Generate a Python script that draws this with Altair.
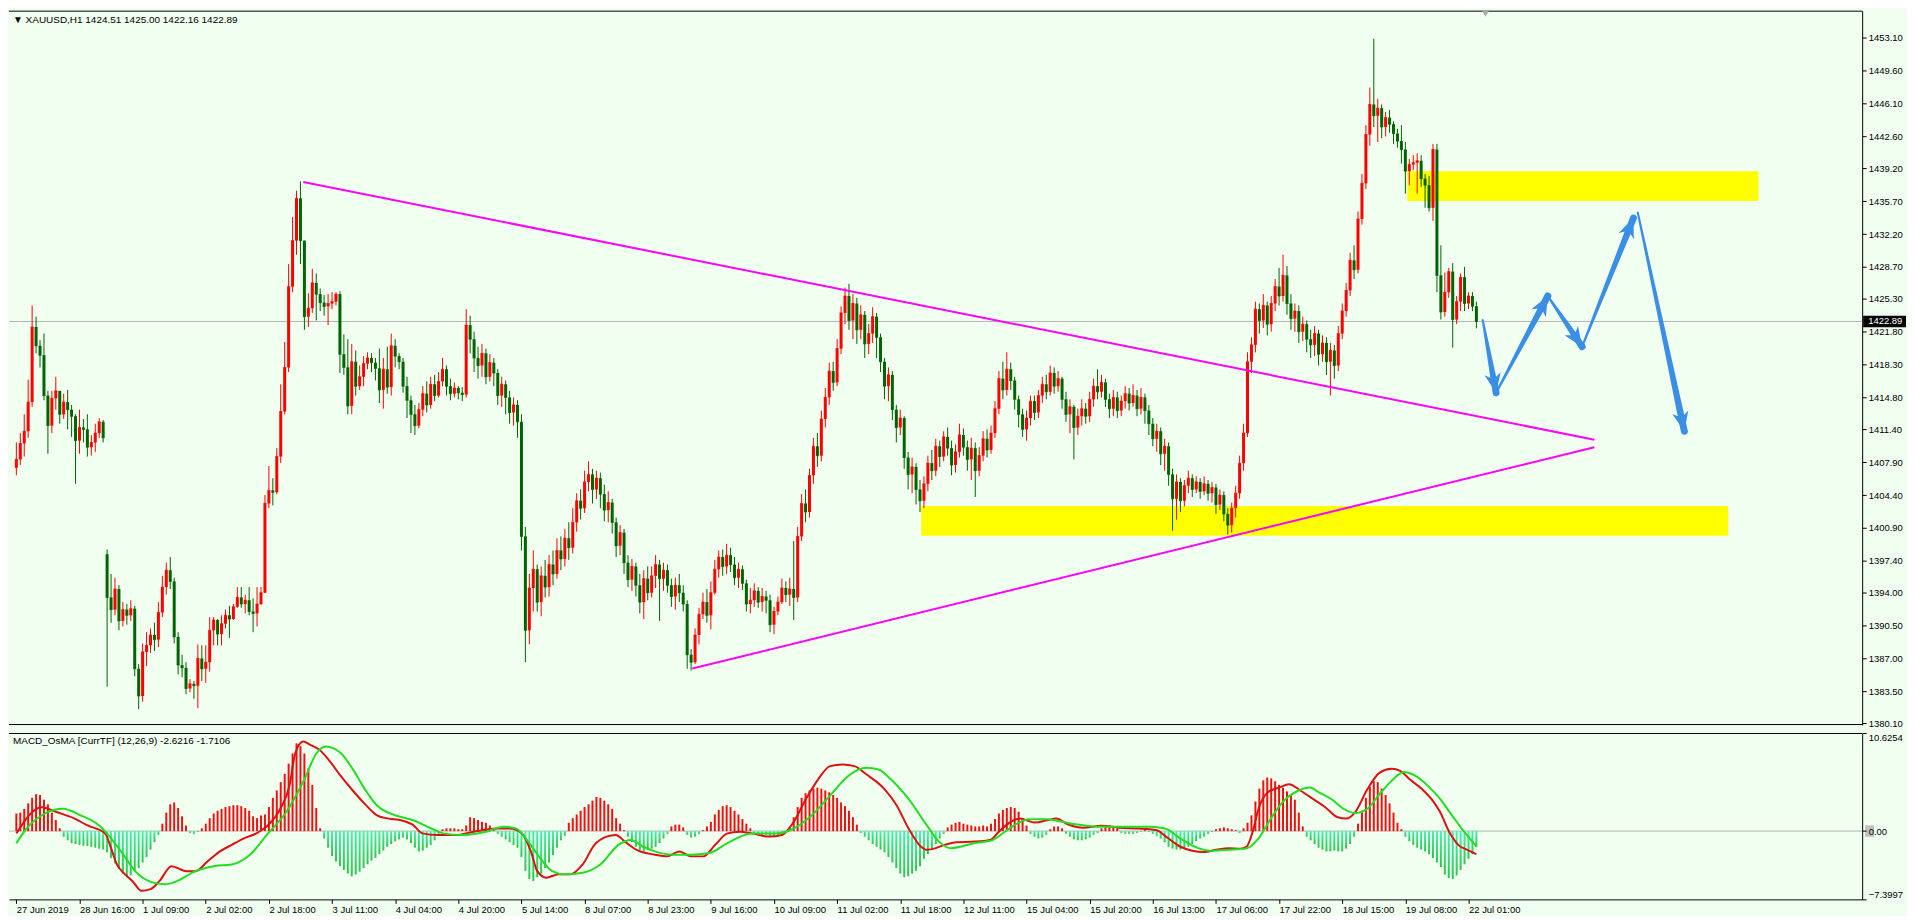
import math
import pandas as pd
import altair as alt

# ---------------- data ----------------
close = [
    1408.2, 1409.9, 1411.2, 1414.3, 1422.3, 1420.3, 1419.3, 1415.0, 1411.8, 1414.7, 1415.5, 1413.0, 1414.3, 1413.5, 1412.8, 1410.2, 1411.6, 1411.4, 1409.5, 1410.0, 1411.0, 1412.2, 1410.5,
    1393.5, 1392.2, 1394.4, 1391.0, 1392.2, 1391.6, 1392.3, 1385.9, 1383.0, 1387.7, 1388.4, 1389.5, 1389.0, 1391.9, 1394.6, 1396.4, 1395.2, 1389.3, 1386.3, 1386.0, 1383.8, 1384.3, 1384.1, 1387.0, 1385.9, 1386.6, 1390.0, 1391.1, 1389.6, 1390.7, 1391.6, 1391.2, 1392.5, 1393.5, 1392.8, 1393.2, 1392.0, 1391.8, 1392.8, 1394.0,
    1403.5, 1404.9, 1404.7, 1408.5, 1413.3, 1418.0, 1426.6, 1431.5, 1436.0, 1431.5, 1423.4, 1424.3, 1427.0, 1425.8, 1424.9, 1424.5, 1424.8, 1425.0, 1425.8, 1419.4, 1418.0, 1413.9, 1418.6, 1416.0, 1417.0, 1418.4, 1419.0, 1418.5, 1417.9, 1415.6, 1417.8, 1415.9, 1420.3, 1419.2, 1418.6, 1416.0, 1414.5,
    1413.0, 1411.8, 1413.5, 1415.2, 1414.0, 1416.2, 1415.0, 1416.5, 1417.8, 1416.0, 1415.2, 1415.8, 1415.3, 1415.1, 1422.5, 1421.0, 1419.0, 1418.2, 1419.5, 1417.0, 1418.5, 1417.4, 1415.0, 1416.2, 1414.8, 1413.2, 1414.0, 1412.2,
    1400.0, 1390.0, 1394.5, 1396.5, 1393.0, 1395.8, 1394.6, 1397.0, 1396.0, 1398.5, 1397.6, 1399.8, 1398.8, 1401.5, 1403.8, 1403.0, 1405.8, 1406.6, 1405.0, 1406.2, 1404.5, 1402.8, 1403.6, 1401.5, 1399.0, 1400.4, 1397.2, 1395.4, 1396.8, 1394.8,
    1393.0, 1395.5, 1394.0, 1395.8, 1397.0, 1395.5, 1396.4, 1394.8, 1393.6, 1394.8, 1394.0, 1392.8, 1387.4, 1386.6, 1389.5, 1391.7, 1393.0, 1391.6, 1394.0, 1396.5, 1397.8, 1396.8, 1398.0, 1397.0, 1395.6, 1396.5, 1395.0, 1392.8, 1393.2, 1394.2, 1393.0, 1393.6, 1393.2, 1390.6, 1392.0, 1393.0, 1394.5, 1393.8, 1394.4, 1393.5,
    1400.0, 1403.5, 1402.6, 1406.5, 1409.6, 1408.6, 1412.5, 1414.8, 1417.6, 1416.4, 1420.0, 1423.8, 1425.6, 1423.0, 1424.8, 1422.0, 1423.6, 1420.5, 1421.6, 1423.4, 1421.2, 1418.6, 1416.0, 1417.2, 1413.5, 1411.6, 1412.6, 1408.4, 1406.6, 1407.4, 1405.0, 1403.8, 1405.6,
    1407.8, 1407.0, 1409.6, 1408.5, 1410.6, 1409.4, 1407.6, 1409.0, 1410.8, 1409.5, 1408.2, 1409.4, 1407.0, 1408.6, 1410.4, 1409.2, 1411.0, 1413.6, 1416.8, 1415.6, 1417.8, 1416.6, 1414.6, 1413.0, 1411.4, 1412.6, 1414.4, 1413.2, 1415.0, 1416.2, 1415.4,
    1417.4, 1416.0, 1416.8, 1414.6, 1413.0, 1413.8, 1411.6, 1412.8, 1413.6, 1412.8, 1414.6, 1416.0, 1415.4, 1416.4, 1414.6, 1413.6, 1414.8, 1413.4, 1414.4, 1415.2, 1414.2, 1415.0, 1413.6, 1414.8, 1413.4, 1412.0,
    1410.4, 1411.2, 1408.8, 1409.6, 1406.6, 1404.0, 1405.8, 1403.8, 1405.4, 1406.2, 1405.0, 1405.8, 1404.8, 1405.6, 1404.6, 1405.2, 1403.4, 1404.4, 1402.4, 1401.2, 1403.0,
    1404.6, 1407.8, 1411.0, 1418.6, 1420.4, 1424.2, 1423.0, 1424.6, 1422.6, 1424.8, 1426.6, 1425.6, 1427.8, 1424.8, 1423.2, 1424.0, 1421.8, 1422.6, 1421.0, 1420.4, 1421.6, 1419.4, 1420.6, 1418.6, 1419.8, 1418.2, 1421.6,
    1424.0, 1426.2, 1429.4, 1428.4, 1433.8, 1437.6, 1442.8, 1446.0, 1444.8, 1445.6, 1443.6, 1444.6, 1443.9, 1442.9, 1442.1, 1441.2, 1438.9,
    1439.6, 1439.8, 1440.0, 1438.1, 1437.4, 1435.0, 1441.2, 1427.8, 1423.9, 1426.0, 1428.2, 1423.1, 1425.0, 1427.6, 1424.8, 1425.6, 1424.51, 1422.89,
]
high = [
    1410.0, 1411.0, 1413.0, 1416.7, 1424.6, 1423.4, 1420.9, 1421.6, 1415.5, 1415.5, 1417.0, 1415.5, 1415.2, 1415.6, 1414.0, 1413.0, 1413.5, 1412.5, 1413.0, 1410.8, 1412.0, 1412.6, 1412.4,
    1398.6, 1396.0, 1395.6, 1394.8, 1393.0, 1392.8, 1393.2, 1392.6, 1386.4, 1388.6, 1389.8, 1390.2, 1390.8, 1393.0, 1395.8, 1397.2, 1397.8, 1395.6, 1389.8, 1387.4, 1386.6, 1384.8, 1384.6, 1388.5, 1388.4, 1388.4, 1391.4, 1391.4, 1391.2, 1391.6, 1392.2, 1392.6, 1392.8, 1394.6, 1394.6, 1393.8, 1394.6, 1393.4, 1394.6, 1394.6,
    1404.4, 1407.5, 1406.2, 1409.4, 1416.2, 1420.7, 1429.0, 1434.0, 1436.8, 1437.8, 1429.0, 1425.9, 1428.5, 1428.0, 1426.4, 1425.7, 1425.8, 1426.0, 1426.0, 1426.1, 1421.5, 1421.0, 1420.5, 1419.8, 1418.2, 1419.2, 1419.6, 1419.5, 1419.0, 1420.0, 1419.0, 1420.2, 1421.6, 1421.0, 1419.5, 1419.0, 1417.0,
    1415.0, 1414.0, 1414.2, 1416.0, 1416.5, 1417.0, 1417.2, 1417.5, 1419.0, 1418.2, 1416.8, 1416.4, 1416.0, 1415.9, 1424.2, 1423.5, 1421.8, 1420.2, 1420.5, 1420.0, 1419.4, 1419.0, 1417.8, 1417.0, 1416.6, 1415.5, 1414.8, 1414.5,
    1413.0, 1401.0, 1396.0, 1398.5, 1397.0, 1396.8, 1397.5, 1398.0, 1398.5, 1399.8, 1400.0, 1400.8, 1401.5, 1403.0, 1404.6, 1405.0, 1407.0, 1408.0, 1407.2, 1407.0, 1406.8, 1405.5, 1404.8, 1404.0, 1402.0, 1401.2, 1400.8, 1398.0, 1397.6, 1397.2,
    1396.0, 1396.4, 1396.8, 1396.8, 1398.0, 1397.5, 1397.2, 1397.0, 1395.5, 1395.6, 1396.0, 1394.8, 1393.2, 1388.0, 1390.2, 1392.4, 1394.0, 1394.4, 1395.2, 1397.5, 1398.5, 1398.6, 1399.2, 1398.8, 1397.8, 1397.2, 1396.9, 1395.4, 1394.5, 1395.0, 1394.6, 1394.5, 1394.2, 1393.8, 1392.5, 1393.6, 1395.5, 1395.2, 1395.6, 1399.5,
    1401.0, 1404.5, 1405.0, 1407.2, 1410.5, 1411.0, 1413.4, 1415.8, 1418.5, 1418.6, 1421.0, 1424.5, 1426.5, 1426.9, 1425.8, 1425.4, 1424.6, 1424.0, 1422.6, 1424.4, 1423.8, 1421.6, 1419.0, 1418.0, 1417.6, 1414.0, 1413.5, 1412.8, 1409.0, 1408.4, 1407.8, 1406.0, 1406.4,
    1408.6, 1409.2, 1410.4, 1410.2, 1411.2, 1411.6, 1410.2, 1409.8, 1412.0, 1411.5, 1410.2, 1410.5, 1410.0, 1409.5, 1411.2, 1411.4, 1411.8, 1414.4, 1417.6, 1418.6, 1419.6, 1418.5, 1417.0, 1415.0, 1413.6, 1413.4, 1415.0, 1415.0, 1415.6, 1417.0, 1417.2,
    1418.2, 1418.0, 1417.6, 1417.0, 1415.4, 1414.6, 1414.0, 1413.6, 1414.6, 1414.2, 1415.4, 1416.8, 1417.8, 1417.2, 1416.8, 1415.2, 1415.6, 1415.4, 1415.0, 1416.0, 1415.8, 1416.2, 1415.6, 1415.8, 1415.2, 1414.0,
    1412.6, 1412.0, 1411.6, 1410.4, 1410.0, 1407.2, 1406.6, 1406.2, 1406.0, 1407.0, 1406.6, 1406.4, 1406.2, 1406.4, 1406.0, 1405.8, 1405.6, 1405.0, 1404.8, 1403.0, 1403.6,
    1405.4, 1408.6, 1412.0, 1419.6, 1421.2, 1425.0, 1424.8, 1425.8, 1425.0, 1425.6, 1427.4, 1428.6, 1430.0, 1428.8, 1425.8, 1424.8, 1424.6, 1423.4, 1423.0, 1422.0, 1422.4, 1422.0, 1421.4, 1421.2, 1420.6, 1420.4, 1422.4,
    1424.8, 1427.0, 1430.2, 1431.0, 1434.6, 1438.6, 1443.8, 1447.8, 1453.0, 1446.6, 1446.0, 1445.2, 1445.4, 1444.2, 1443.4, 1443.8, 1442.0,
    1440.2, 1440.6, 1440.8, 1440.6, 1438.6, 1438.4, 1441.8, 1441.8, 1431.0, 1428.1, 1428.6, 1429.1, 1425.6, 1428.0, 1428.7, 1426.0, 1426.0, 1425.00,
]
low = [
    1406.5, 1407.6, 1408.5, 1410.5, 1413.8, 1419.5, 1418.0, 1414.5, 1408.8, 1411.0, 1413.5, 1412.0, 1412.5, 1411.4, 1410.6, 1405.6, 1408.8, 1410.0, 1408.5, 1408.6, 1409.0, 1410.5, 1410.0,
    1384.0, 1390.8, 1391.6, 1390.0, 1390.4, 1390.6, 1391.0, 1385.1, 1381.6, 1382.4, 1386.2, 1387.6, 1387.8, 1388.2, 1391.4, 1393.8, 1394.4, 1388.6, 1385.3, 1385.0, 1383.2, 1383.4, 1382.7, 1381.7, 1384.6, 1384.4, 1385.6, 1388.4, 1388.4, 1388.4, 1390.2, 1389.2, 1391.1, 1392.4, 1392.4, 1391.8, 1391.6, 1389.8, 1390.4, 1392.7,
    1394.0, 1403.0, 1403.3, 1404.5, 1407.8, 1413.0, 1417.5, 1426.0, 1430.0, 1429.0, 1422.0, 1422.3, 1423.8, 1423.0, 1424.0, 1423.5, 1422.5, 1424.2, 1424.6, 1417.4, 1417.2, 1413.0, 1413.0, 1415.0, 1415.6, 1416.0, 1417.8, 1417.5, 1416.6, 1414.2, 1413.6, 1415.2, 1415.0, 1418.0, 1417.8, 1415.3, 1412.6,
    1411.0, 1410.8, 1411.5, 1412.8, 1413.2, 1413.6, 1414.4, 1414.8, 1416.0, 1415.0, 1414.5, 1414.8, 1414.6, 1414.4, 1414.8, 1419.5, 1417.5, 1416.8, 1417.0, 1416.2, 1416.5, 1416.0, 1414.0, 1413.8, 1413.0, 1412.0, 1411.8, 1410.5,
    1398.5, 1386.6, 1388.5, 1392.0, 1392.0, 1391.5, 1393.5, 1393.6, 1394.8, 1395.5, 1396.4, 1396.8, 1397.5, 1398.2, 1400.5, 1401.8, 1402.5, 1404.8, 1403.5, 1404.0, 1403.0, 1401.6, 1401.5, 1400.3, 1397.8, 1398.0, 1396.0, 1394.6, 1394.2, 1393.6,
    1391.8, 1391.2, 1393.2, 1393.5, 1394.5, 1391.0, 1394.2, 1394.0, 1392.5, 1392.2, 1393.0, 1392.0, 1385.9, 1385.7, 1386.4, 1388.5, 1391.2, 1390.8, 1390.1, 1393.8, 1395.6, 1395.8, 1396.0, 1396.2, 1394.8, 1394.5, 1394.3, 1392.0, 1391.8, 1392.5, 1392.4, 1392.0, 1391.8, 1389.8, 1389.6, 1391.6, 1392.8, 1393.0, 1392.6, 1391.1,
    1393.0, 1399.5, 1401.5, 1402.0, 1405.6, 1407.4, 1408.0, 1411.6, 1414.0, 1415.5, 1416.0, 1419.4, 1422.6, 1422.0, 1421.0, 1420.5, 1421.0, 1419.0, 1419.4, 1420.6, 1419.0, 1417.5, 1414.6, 1414.4, 1412.4, 1410.0, 1410.8, 1407.2, 1405.0, 1404.6, 1403.4, 1402.6, 1403.0,
    1404.8, 1406.0, 1406.4, 1407.4, 1408.0, 1408.6, 1406.5, 1406.8, 1408.4, 1408.6, 1407.0, 1406.0, 1404.2, 1406.4, 1408.0, 1408.4, 1408.8, 1410.5, 1413.0, 1414.6, 1415.0, 1415.6, 1413.5, 1411.6, 1410.6, 1410.2, 1411.8, 1412.4, 1412.6, 1414.2, 1414.6,
    1415.0, 1415.2, 1415.4, 1413.6, 1412.2, 1411.0, 1408.2, 1410.8, 1411.8, 1412.0, 1412.2, 1413.8, 1414.6, 1414.8, 1413.8, 1412.6, 1412.8, 1412.6, 1412.8, 1413.6, 1413.4, 1413.8, 1412.8, 1413.0, 1412.0, 1410.8,
    1409.6, 1409.0, 1407.6, 1407.0, 1405.4, 1400.6, 1401.8, 1402.6, 1403.2, 1404.6, 1404.2, 1404.6, 1404.0, 1404.4, 1403.8, 1403.6, 1402.4, 1402.8, 1401.6, 1400.2, 1400.4,
    1402.0, 1404.0, 1407.0, 1410.6, 1417.4, 1419.6, 1421.6, 1422.2, 1421.4, 1421.8, 1424.0, 1424.6, 1425.0, 1423.6, 1422.0, 1421.8, 1420.6, 1420.8, 1419.6, 1419.0, 1419.2, 1418.2, 1418.6, 1417.2, 1415.0, 1416.8, 1417.6,
    1421.0, 1423.4, 1425.6, 1427.4, 1428.0, 1433.2, 1437.0, 1441.6, 1443.6, 1442.0, 1442.4, 1442.6, 1443.0, 1441.8, 1441.4, 1439.7, 1436.5,
    1437.4, 1439.0, 1436.5, 1437.2, 1435.0, 1434.6, 1433.6, 1426.0, 1423.1, 1423.4, 1425.4, 1420.1, 1422.6, 1424.0, 1424.0, 1424.2, 1424.0, 1422.16,
]
open_gap = {0: 1407.3, 23: 1398.1}

osma = [
    1.9, 2.0, 2.4, 3.0, 3.6, 4.0, 3.9, 3.4, 2.9, 2.0, 1.2, 0.3,
    -0.6, -1.0, -1.3, -1.4, -1.5, -1.6, -1.6, -1.7, -1.8, -1.9, -2.0,
    -2.3, -2.9, -3.5, -4.1, -4.6, -5.0, -4.8, -4.3,
    -4.0, -3.4, -2.8, -2.0, -1.2, -0.4,
    0.8, 2.0, 2.9, 3.1, 2.5, 1.6, 0.6,
    -0.2, -0.3, -0.1,
    0.3, 0.8, 1.4, 1.9, 2.2, 2.4, 2.6, 2.7, 2.8, 2.8, 2.7, 2.5, 2.2, 1.6, 1.4, 1.7,
    1.8, 2.6, 3.6, 4.4, 5.3, 6.2, 7.3, 8.4, 9.5, 9.2, 8.4, 6.8, 5.0, 2.5, 0.3,
    -0.8, -1.8, -2.7, -3.3, -3.8, -4.2, -4.6, -4.9, -4.7, -4.4, -4.0, -3.6, -3.2, -2.9, -2.5, -2.1, -1.7, -1.4, -1.1, -0.9, -0.7, -0.9, -1.3, -1.8, -2.2, -2.1, -1.8, -1.5, -1.0, -0.5,
    0.2, 0.3, 0.3, 0.3, 0.2, 0.2,
    0.6, 1.5, 1.4, 1.2, 1.0, 0.9, 0.6, 0.3,
    -0.3, -0.6, -0.9, -1.2, -1.5, -1.8, -2.8, -4.3, -5.2, -5.4, -5.0, -4.6, -4.0, -3.4, -2.6, -1.8, -1.0, -0.5,
    0.9, 1.4, 1.8, 2.2, 2.6, 2.9, 3.3, 3.7, 3.6, 3.3, 2.9, 2.4, 1.4, 0.8, 0.1,
    -0.6, -1.2, -1.7, -2.1, -2.2, -2.0, -1.9, -1.7, -1.3, -0.8, -0.3,
    0.5, 0.7, 0.7, 0.4,
    -0.4, -0.7, -0.6, -0.3,
    0.1, 0.5, 1.0, 1.8, 2.3, 2.7, 2.8, 2.6, 2.2, 1.8, 1.3, 0.8, 0.3,
    -0.2, -0.3, -0.4, -0.4, -0.5, -0.6, -0.5, -0.4, -0.2,
    0.4, 1.5, 2.6, 3.6, 4.1, 4.4, 4.6, 4.7, 4.6, 4.4, 4.2, 3.9, 3.6, 3.1, 2.7, 2.2, 1.5, 0.7,
    -0.2, -0.6, -1.0, -1.4, -1.7, -2.0, -2.3, -2.8, -3.4, -4.0, -4.6, -5.0, -4.9, -4.6, -4.3, -3.8, -3.0, -2.5, -1.9, -1.4, -0.8, -0.3,
    0.4, 0.7, 0.9, 1.0, 0.8, 0.7, 0.6, 0.5, 0.5, 0.6, 0.5, 0.8,
    1.3, 1.9, 2.3, 2.5, 2.6, 2.5, 2.1, 1.4, 0.6,
    -0.3, -0.6, -0.8, -0.7, -0.4,
    0.2, 0.5, 0.5, 0.3,
    -0.3, -0.6, -0.9, -1.0, -1.0, -0.9, -0.7, -0.4, -0.2,
    0.3, 0.5, 0.6, 0.5, 0.4,
    -0.2, -0.3, -0.3, -0.3, -0.2, -0.1, 0.1, -0.1, -0.3, -0.5,
    -0.8, -1.2, -1.7, -1.9, -2.0, -2.0, -1.9, -1.7, -1.4, -1.1, -0.8, -0.6, -0.3, -0.1,
    0.2, 0.3, 0.4, 0.3, 0.2, 0.1, -0.2,
    0.3, 0.9, 1.7, 3.2, 4.6, 5.5, 5.8, 5.7, 5.4, 5.0, 4.7, 4.3, 3.9, 3.4, 2.0, 0.5,
    -0.6, -1.0, -1.4, -1.8, -2.0, -2.2, -2.2, -2.1, -2.2, -2.2, -1.9, -1.4, -0.6,
    0.8, 2.2, 3.6, 4.8, 5.4, 5.3, 4.6, 3.9, 3.0, 2.0, 0.9, 0.2,
    -0.6, -1.1, -1.5, -1.8, -2.0, -2.2, -2.5, -2.9, -3.4, -3.9, -4.7, -5.1, -5.2, -4.8, -4.2, -3.6, -3.0, -2.5, -1.7,
]

macd_x = [0, 6.4, 10.2, 14.8, 17.9, 22.5, 24.0, 25.5, 27.1, 29.4,
          31.7, 34.0, 36.3, 39.3, 43.1, 45.4, 48.5, 51.6, 54.6, 57.7,
          60.8, 63.8, 66.9, 69.2, 70.7, 72.7, 74.5, 76.8, 79.1, 82.2,
          85.3, 88.3, 91.4, 94.4, 97.5, 100.6, 102.9, 106.7, 111.3, 115.9,
          122.0, 125.1, 128.1, 130.4, 132.0, 134.3, 137.3, 140.4, 143.5, 146.5,
          149.6, 151.9, 154.2, 157.2, 161.8, 164.9, 168.0, 171.0, 174.1, 177.1,
          180.2, 183.3, 186.3, 190.9, 194.0, 197.0, 200.1, 203.2, 206.2, 209.3,
          212.4, 215.4, 220.0, 223.1, 226.1, 229.2, 230.7, 233.0, 235.3, 238.3,
          242.8, 246.7, 249.0, 252.0, 254.3, 258.2, 261.2, 263.5, 266.6, 270.4,
          275.0, 279.6, 284.2, 288.8, 291.9, 294.9, 298.0, 301.0, 304.1, 307.2,
          310.2, 311.8, 313.3, 314.8, 317.1, 320.2, 322.5, 325.5, 328.6, 331.7,
          334.7, 337.0, 339.3, 342.4, 345.5, 348.5, 350.8, 353.1, 356.2, 359.2,
          360.8, 363.1, 365.4, 367.7, 370.0]
macd_v = [-0.25, 2.59, 2.06, 1.35, 0.64, -0.25, -1.85, -3.62, -4.51, -5.40,
          -6.47, -6.29, -5.40, -3.80, -4.34, -4.34, -3.27, -2.20, -1.49, -0.78,
          -0.25, 0.64, 2.42, 4.90, 8.46, 9.70, 9.35, 8.81, 7.75, 5.97,
          4.37, 2.95, 1.71, 1.35, 1.17, 0.64, -0.25, -0.43, -0.43, -0.07,
          0.28, 0.28, -0.25, -2.20, -4.34, -5.05, -4.69, -4.69, -3.62, -1.49,
          -0.60, -0.43, -1.14, -2.03, -2.56, -2.74, -2.20, -2.74, -2.74, -1.49,
          -0.25, -0.07, -0.25, -0.60, -0.43, 1.00, 3.48, 5.61, 7.04, 7.21,
          7.04, 6.15, 4.55, 2.77, 0.28, -1.67, -2.03, -1.85, -1.49, -1.20,
          -1.14, -0.96, -0.07, 1.00, 1.35, 0.92, 1.17, 1.35, 0.71, 0.36,
          0.57, 0.36, 0.28, 0.11, -0.78, -1.67, -2.13, -2.27, -2.03, -1.85,
          -1.92, -1.67, -0.07, 2.42, 4.19, 4.73, 5.08, 4.37, 3.48, 2.59,
          1.53, 1.35, 2.06, 4.55, 6.33, 6.75, 6.50, 5.61, 4.55, 3.13,
          2.06, -0.07, -1.49, -2.03, -2.49]

sig_x = [0, 2.6, 7.2, 11.8, 16.3, 20.9, 24.0, 27.1, 30.1, 34.7,
         37.8, 40.8, 45.4, 50.0, 54.6, 59.2, 63.8, 68.4, 73.0, 76.1,
         78.4, 82.2, 85.3, 88.3, 91.4, 96.0, 100.6, 105.2, 108.2, 112.8,
         119.0, 123.5, 126.6, 129.7, 132.7, 135.8, 138.9, 143.5, 148.0, 152.6,
         155.7, 158.8, 161.8, 166.4, 171.0, 175.6, 180.2, 186.3, 192.5, 197.0,
         201.6, 206.2, 210.8, 215.4, 218.5, 221.6, 226.1, 230.7, 233.8, 236.9,
         242.8, 247.4, 250.5, 253.6, 256.6, 261.2, 264.3, 268.9, 275.0, 281.1,
         287.3, 291.1, 294.9, 299.5, 302.6, 307.2, 311.8, 314.8, 317.9, 320.9,
         324.8, 327.8, 330.1, 333.2, 336.3, 339.3, 342.4, 345.5, 348.5, 351.6,
         354.6, 357.7, 360.8, 363.8, 366.9, 370.0]
sig_v = [-1.31, 0.28, 1.88, 2.42, 1.71, 0.64, -0.78, -2.56, -4.34, -5.58,
         -5.76, -5.40, -4.34, -3.80, -3.62, -2.56, -0.25, 2.06, 5.61, 8.46,
         9.17, 8.46, 6.68, 4.55, 2.77, 1.71, 1.17, 0.28, -0.25, -0.43,
         -0.07, 0.46, 0.28, -1.14, -2.91, -4.34, -4.69, -4.51, -3.62, -1.49,
         -0.96, -1.67, -2.20, -2.56, -2.56, -2.38, -1.31, -0.25, -0.25, 0.28,
         1.71, 3.84, 5.97, 6.86, 6.68, 5.61, 3.48, 0.64, -1.14, -1.85,
         -1.31, -0.96, -0.07, 0.82, 1.28, 1.28, 1.07, 0.71, 0.46, 0.46,
         0.46, 0.28, -0.78, -1.85, -2.13, -2.03, -1.85, -0.78, 1.35, 3.13,
         4.37, 4.73, 4.19, 3.48, 2.42, 1.95, 2.42, 4.02, 5.44, 6.40,
         5.97, 4.90, 3.48, 1.71, -0.07, -1.67]

price_ticks = [1453.10, 1449.60, 1446.10, 1442.60, 1439.20, 1435.70, 1432.20, 1428.70,
               1425.30, 1421.80, 1418.30, 1414.80, 1411.40, 1407.90, 1404.40, 1400.90,
               1397.40, 1394.00, 1390.50, 1387.00, 1383.50, 1380.10]
macd_ticks = [-7.3997, 0, 10.6254]
date_labels = ["27 Jun 2019", "28 Jun 16:00", "1 Jul 09:00", "2 Jul 02:00", "2 Jul 18:00",
               "3 Jul 11:00", "4 Jul 04:00", "4 Jul 20:00", "5 Jul 14:00", "8 Jul 07:00",
               "8 Jul 23:00", "9 Jul 16:00", "10 Jul 09:00", "11 Jul 02:00", "11 Jul 18:00",
               "12 Jul 11:00", "15 Jul 04:00", "15 Jul 20:00", "16 Jul 13:00", "17 Jul 06:00",
               "17 Jul 22:00", "18 Jul 15:00", "19 Jul 08:00", "22 Jul 01:00"]
date_step = 16
last_price = 1422.89
title_main = "\u25bc XAUUSD,H1  1424.51 1425.00 1422.16 1422.89"
title_macd = "MACD_OsMA [CurrTF] (12,26,9) -2.6216 -1.7106"

# drawn objects (bar index, price)
box_x0 = [352.5, 229.3]
box_x1 = [441.5, 433.8]
box_top = [1438.9, 1403.23]
box_bot = [1435.73, 1400.07]
tri_x0 = [72.7, 171.3]
tri_y0 = [1437.74, 1385.93]
tri_x1 = [399.9, 399.9]
tri_y1 = [1410.3, 1409.5]
arrow_x0 = [371.6, 375.0, 388.1, 396.8, 410.9]
arrow_y0 = [1423.05, 1415.3, 1425.6, 1420.2, 1434.5]
arrow_x1 = [375.0, 388.1, 396.8, 409.8, 422.7]
arrow_y1 = [1415.3, 1425.6, 1420.2, 1433.9, 1411.2]
shift_marker_x = 372.3

# ---------------- layout / style ----------------
FONT = "Liberation Sans"
FS = 9.5
W, H1, H2 = 1860, 717, 167
X_DOM = [-0.6, 466.5]
Y1_DOM = [1379.91, 1455.99]
Y2_DOM = [-7.3997, 10.6254]
RED = "#FF0000"
DKGREEN = "#006400"
BLUE = "#3A8EE6"
MAGENTA = "#FF00FF"
YELLOW = "#FFFF00"
BG = "#F0FFF0"

n = min(len(close), len(high), len(low), len(osma))
opens = [open_gap.get(i, close[i - 1] if i > 0 else close[0]) for i in range(n)]
df = pd.DataFrame({"i": list(range(n)), "o": opens, "c": close[:n], "h": high[:n], "l": low[:n]})
df["h"] = df[["h", "o", "c"]].max(axis=1)
df["l"] = df[["l", "o", "c"]].min(axis=1)
df["dir"] = ["up" if c >= o else "down" for o, c in zip(df["o"], df["c"])]

hdf = pd.DataFrame({"i": list(range(n)), "h": osma[:n]})
mdf = pd.DataFrame({"x": macd_x[:len(macd_v)], "v": macd_v[:len(macd_x)]})
sdf = pd.DataFrame({"x": sig_x[:len(sig_v)], "v": sig_v[:len(sig_x)]})

box_df = pd.DataFrame({"x0": box_x0, "x1": box_x1, "top": box_top, "bot": box_bot})
tri_rows = []
for k in range(len(tri_x0)):
    tri_rows.append({"id": k, "x": tri_x0[k], "y": tri_y0[k]})
    tri_rows.append({"id": k, "x": tri_x1[k], "y": tri_y1[k]})
tri_df = pd.DataFrame(tri_rows)

kx = W / (X_DOM[1] - X_DOM[0])
ky = H1 / (Y1_DOM[1] - Y1_DOM[0])
trail_rows, head_rows = [], []
for k in range(len(arrow_x0)):
    trail_rows.append({"id": k, "x": arrow_x0[k], "y": arrow_y0[k], "w": 2.0, "ord": 0})
    trail_rows.append({"id": k, "x": arrow_x1[k], "y": arrow_y1[k], "w": 7.0, "ord": 1})
    dx = (arrow_x1[k] - arrow_x0[k]) * kx
    dy = -(arrow_y1[k] - arrow_y0[k]) * ky
    ang = math.degrees(math.atan2(dx, -dy)) % 360
    head_rows.append({"x": arrow_x1[k], "y": arrow_y1[k], "ang": ang})
trail_df = pd.DataFrame(trail_rows)
head_df = pd.DataFrame(head_rows)
HEAD_PATH = "M0,0L0.8,1.9L0,1.35L-0.8,1.9Z"

lp_df = pd.DataFrame({"p": [last_price], "hi": [last_price + 0.62], "lo": [last_price - 0.62]})
one = pd.DataFrame({"a": [0]})

xs = alt.Scale(domain=X_DOM, nice=False, zero=False)
ys1 = alt.Scale(domain=Y1_DOM, nice=False, zero=False)
ys2 = alt.Scale(domain=Y2_DOM, nice=False, zero=False)

Y1AX = alt.Axis(orient="right", values=price_ticks, format=".2f", title=None, grid=False,
                tickSize=4, tickColor="black", domainColor="black", labelColor="black",
                labelFont=FONT, labelFontSize=FS, labelPadding=2, labelOverlap=False, zindex=1)
Y2AX = alt.Axis(orient="right", values=macd_ticks,
                labelExpr="datum.value == 0 ? '0.00' : format(datum.value, '.4f')",
                labelFlush=True, title=None, grid=False, tickSize=4, tickColor="black",
                domainColor="black", labelColor="black", labelFont=FONT, labelFontSize=FS,
                labelPadding=2, labelOverlap=False, zindex=1)
label_js = "[" + ",".join("'" + s + "'" for s in date_labels) + "]"
XAX = alt.Axis(values=[date_step * k for k in range(len(date_labels))],
               labelExpr=label_js + "[round(datum.value/" + str(date_step) + ")]",
               title=None, grid=False, tickSize=4, tickColor="black", domainColor="black",
               labelColor="black", labelFont=FONT, labelFontSize=FS, labelAlign="left",
               labelBaseline="top", labelPadding=1, labelFlush=False, labelOverlap=False, zindex=1)

cdir = alt.Color("dir:N", scale=alt.Scale(domain=["up", "down"], range=[RED, DKGREEN]), legend=None)


def X1(f):
    return alt.X(f, scale=xs, axis=None)


def Y1(f):
    return alt.Y(f, scale=ys1, axis=Y1AX)


def X2(f):
    return alt.X(f, scale=xs, axis=XAX)


def Y2(f):
    return alt.Y(f, scale=ys2, axis=Y2AX)


# ---------------- main panel ----------------
boxes = alt.Chart(box_df).mark_rect(color=YELLOW).encode(x=X1("x0:Q"), x2="x1:Q", y=Y1("top:Q"), y2="bot:Q")
price_line = alt.Chart(lp_df).mark_rule(color="#B4B4B4", strokeWidth=1).encode(
    y=Y1("p:Q"), x=alt.value(0), x2=alt.value(W))
wick = alt.Chart(df).mark_rule(strokeWidth=1).encode(x=X1("i:Q"), y=Y1("l:Q"), y2="h:Q", color=cdir)
body = alt.Chart(df).mark_bar(size=3).encode(x=X1("i:Q"), y=Y1("o:Q"), y2="c:Q", color=cdir)
doji = alt.Chart(df).mark_tick(orient="horizontal", size=3, thickness=1).encode(x=X1("i:Q"), y=Y1("c:Q"), color=cdir)
tri = alt.Chart(tri_df).mark_line(color=MAGENTA, strokeWidth=2).encode(x=X1("x:Q"), y=Y1("y:Q"), detail="id:N")
trail = alt.Chart(trail_df).mark_trail(color=BLUE).encode(
    x=X1("x:Q"), y=Y1("y:Q"), size=alt.Size("w:Q", scale=None, legend=None), detail="id:N", order="ord:Q")
heads = alt.Chart(head_df).mark_point(shape=HEAD_PATH, filled=True, color=BLUE, opacity=1, size=420).encode(
    x=X1("x:Q"), y=Y1("y:Q"), angle=alt.Angle("ang:Q", scale=None))
t1 = alt.Chart(pd.DataFrame({"t": [title_main]})).mark_text(
    align="left", baseline="top", font=FONT, fontSize=10, color="black").encode(
    text="t:N", x=alt.value(4), y=alt.value(4))
lp_box = alt.Chart(lp_df).mark_rect(color="black").encode(
    x=alt.value(W + 1), x2=alt.value(W + 44), y=Y1("hi:Q"), y2="lo:Q")
lp_text = alt.Chart(lp_df).mark_text(align="left", baseline="middle", color="white", font=FONT, fontSize=FS).encode(
    text=alt.Text("p:Q", format=".2f"), x=alt.value(W + 6), y=Y1("p:Q"))
top_rule = alt.Chart(one).mark_rule(color="black", strokeWidth=1).encode(
    x=alt.value(0), x2=alt.value(W), y=alt.value(0.5))
bot_rule = alt.Chart(one).mark_rule(color="black", strokeWidth=1).encode(
    x=alt.value(0), x2=alt.value(W), y=alt.value(H1 - 0.5))
marker = alt.Chart(pd.DataFrame({"x": [shift_marker_x]})).mark_point(
    shape="triangle-down", filled=True, color="#A8A8A8", opacity=1, size=50).encode(
    x=X1("x:Q"), y=alt.value(3))

p1 = alt.layer(boxes, price_line, wick, body, doji, tri, trail, heads, t1,
               lp_box, lp_text, top_rule, bot_rule, marker).properties(width=W, height=H1)

# ---------------- MACD panel ----------------
zero_line = alt.Chart(one).mark_rule(color="#B4B4B4", strokeWidth=1).encode(
    y=alt.Y("a:Q", scale=ys2, axis=Y2AX), x=alt.value(0), x2=alt.value(W))
NEG_FILL = {"gradient": "linear", "x1": 0, "y1": 0, "x2": 0, "y2": 1,
            "stops": [{"offset": 0, "color": "#44F2B2"}, {"offset": 1, "color": "#2EC44C"}]}
hpos = alt.Chart(hdf).transform_filter("datum.h > 0").mark_bar(size=2, color="#F01010").encode(
    x=X2("i:Q"), y=Y2("h:Q"), y2=alt.datum(0))
hneg = alt.Chart(hdf).transform_filter("datum.h < 0").mark_bar(size=2, color=NEG_FILL).encode(
    x=X2("i:Q"), y=Y2("h:Q"), y2=alt.datum(0))
macd_line = alt.Chart(mdf).mark_line(color="#DD1111", strokeWidth=2, interpolate="monotone").encode(
    x=X2("x:Q"), y=Y2("v:Q"))
sig_line = alt.Chart(sdf).mark_line(color="#22DD22", strokeWidth=2, interpolate="monotone").encode(
    x=X2("x:Q"), y=Y2("v:Q"))
zero_box = alt.Chart(pd.DataFrame({"hi": [0.62], "lo": [-0.62]})).mark_rect(color="#C0C0C0").encode(
    x=alt.value(W + 3), x2=alt.value(W + 12), y=Y2("hi:Q"), y2="lo:Q")
t2 = alt.Chart(pd.DataFrame({"t": [title_macd]})).mark_text(
    align="left", baseline="top", font=FONT, fontSize=10, color="black").encode(
    text="t:N", x=alt.value(4), y=alt.value(3))
top2 = alt.Chart(one).mark_rule(color="black", strokeWidth=1).encode(
    x=alt.value(0), x2=alt.value(W), y=alt.value(0.5))

p2 = alt.layer(zero_line, hpos, hneg, macd_line, sig_line, zero_box, t2, top2).properties(width=W, height=H2)

chart = alt.vconcat(p1, p2, spacing=3, background=BG, padding=0).configure_view(stroke="transparent")
chart.save("out.html", embed_options={"renderer": "svg", "actions": False})
